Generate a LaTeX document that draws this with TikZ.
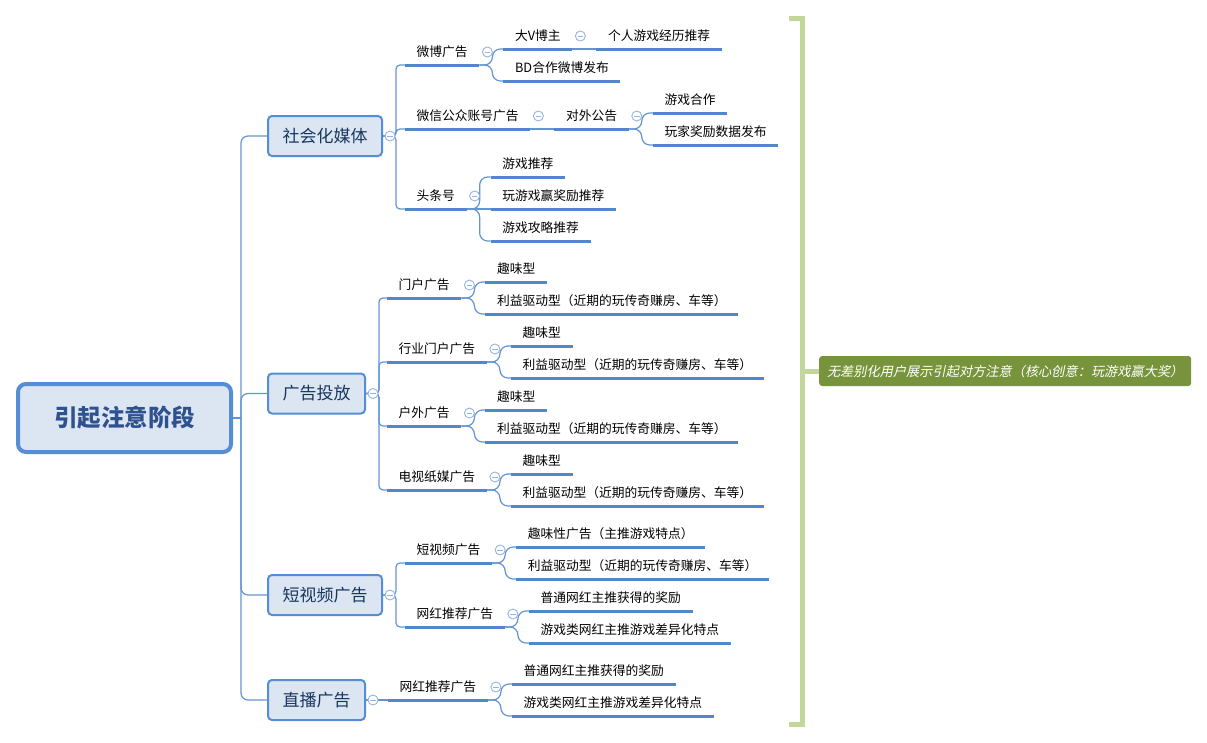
\documentclass[tikz,border=0pt]{standalone}
\usepackage{fontspec}
\setmainfont{Noto Sans CJK SC}
\newfontfamily\slantfont{Noto Sans CJK SC}[FakeSlant=0.2]
\usetikzlibrary{calc}
\definecolor{boxblue}{RGB}{85,142,213}
\definecolor{boxfill}{RGB}{220,230,242}
\definecolor{ulblue}{RGB}{83,135,205}
\definecolor{connblue}{RGB}{100,148,212}
\definecolor{collblue}{RGB}{150,180,225}
\definecolor{rootText}{RGB}{47,82,143}
\definecolor{lvText}{RGB}{23,54,93}
\definecolor{brgreen}{RGB}{196,215,155}
\definecolor{sumgreen}{RGB}{119,147,60}
\newcommand\mmfork[2]{\draw[conn, rounded corners=8pt] (#1.south east) -- ++(13,0) |- (#2.south west);}
\newcommand\mmlink[2]{\draw[conn] (#1.south east) -- (#2.south west);}
\begin{document}
\begin{tikzpicture}[x=1pt,y=-1pt,
  root/.style={draw=boxblue, line width=4pt, fill=boxfill, rounded corners=8pt, minimum width=213pt, minimum height=68pt, inner sep=0pt, text=rootText, font=\fontsize{23.5}{28}\selectfont\bfseries},
  lvone/.style={draw=boxblue, line width=2pt, fill=boxfill, rounded corners=4pt, minimum height=40pt, inner xsep=14.5pt, inner ysep=0pt, text=lvText, font=\fontsize{17}{20}\selectfont, anchor=west},
  lbl/.style={anchor=south west, inner xsep=11.5pt, inner ysep=0pt, text height=11pt, text depth=8.15pt, font=\fontsize{12.75}{15}\selectfont},
  ul/.style={draw=ulblue, line width=3pt},
  conn/.style={draw=connblue, line width=1.2pt},
  coll/.style={circle, draw=collblue, fill=white, line width=0.9pt, minimum size=10pt, inner sep=0pt, path picture={\draw[collblue, line width=0.9pt] ($(path picture bounding box.center)+(-2.8,0)$) -- ($(path picture bounding box.center)+(2.8,0)$);}},
  bracket/.style={draw=brgreen, line width=5pt},
  summ/.style={fill=sumgreen, rounded corners=3pt, minimum width=372pt, minimum height=30pt, inner sep=0pt, text=white, font=\fontsize{13.2}{16}\selectfont\slantfont, anchor=west}
]
\useasboundingbox (0,0) rectangle (1207,742);
\fill[white] (0,0) rectangle (1207,742);

% root and level 1
\node[root] (root) at (124.5,418) {引起注意阶段};
\node[lvone] (s1) at (267,136) {社会化媒体};
\node[lvone] (s2) at (267,393.5) {广告投放};
\node[lvone] (s3) at (267,595) {短视频广告};
\node[lvone] (s4) at (267,700) {直播广告};

% level 2
\node[lbl] (a1) at (405,65) {微博广告};
\node[lbl] (a2) at (405,129) {微信公众账号广告};
\node[lbl] (a3) at (405,209) {头条号};
\node[lbl] (b1) at (387,298) {门户广告};
\node[lbl] (b2) at (387,362) {行业门户广告};
\node[lbl] (b3) at (387,426) {户外广告};
\node[lbl] (b4) at (387,490) {电视纸媒广告};
\node[lbl] (c1) at (405,563) {短视频广告};
\node[lbl] (c2) at (405,627) {网红推荐广告};
\node[lbl] (d1) at (388,700) {网红推荐广告};

% level 3
\node[lbl] (a11) at ($(a1.south east)+(24,-16)$) {大V博主};
\node[lbl] (a12) at ($(a1.south east)+(24,16)$) {BD合作微博发布};
\node[lbl] (a111) at ($(a11.south east)+(24,0)$) {个人游戏经历推荐};
\node[lbl] (a21) at ($(a2.south east)+(24,0)$) {对外公告};
\node[lbl] (a211) at ($(a21.south east)+(24,-16)$) {游戏合作};
\node[lbl] (a212) at ($(a21.south east)+(24,16)$) {玩家奖励数据发布};
\node[lbl] (a31) at ($(a3.south east)+(24,-32)$) {游戏推荐};
\node[lbl] (a32) at ($(a3.south east)+(24,0)$) {玩游戏赢奖励推荐};
\node[lbl] (a33) at ($(a3.south east)+(24,32)$) {游戏攻略推荐};
\node[lbl] (b11) at ($(b1.south east)+(24,-16)$) {趣味型};
\node[lbl] (b12) at ($(b1.south east)+(24,16)$) {利益驱动型（近期的玩传奇赚房、车等）};
\node[lbl] (b21) at ($(b2.south east)+(24,-16)$) {趣味型};
\node[lbl] (b22) at ($(b2.south east)+(24,16)$) {利益驱动型（近期的玩传奇赚房、车等）};
\node[lbl] (b31) at ($(b3.south east)+(24,-16)$) {趣味型};
\node[lbl] (b32) at ($(b3.south east)+(24,16)$) {利益驱动型（近期的玩传奇赚房、车等）};
\node[lbl] (b41) at ($(b4.south east)+(24,-16)$) {趣味型};
\node[lbl] (b42) at ($(b4.south east)+(24,16)$) {利益驱动型（近期的玩传奇赚房、车等）};
\node[lbl] (c11) at ($(c1.south east)+(24,-16)$) {趣味性广告（主推游戏特点）};
\node[lbl] (c12) at ($(c1.south east)+(24,16)$) {利益驱动型（近期的玩传奇赚房、车等）};
\node[lbl] (c21) at ($(c2.south east)+(24,-16)$) {普通网红主推获得的奖励};
\node[lbl] (c22) at ($(c2.south east)+(24,16)$) {游戏类网红主推游戏差异化特点};
\node[lbl] (d11) at ($(d1.south east)+(24,-16)$) {普通网红主推获得的奖励};
\node[lbl] (d12) at ($(d1.south east)+(24,16)$) {游戏类网红主推游戏差异化特点};

% root connectors
\coordinate (rs) at (241,418);
\draw[conn] (root.east) -- (rs);
\foreach \n in {s1,s2,s3,s4} \draw[conn, rounded corners=7pt] (rs) |- (\n.west);

% level 1 -> level 2
\foreach \n in {a1,a2,a3} \draw[conn, rounded corners=4pt] (s1.east) -- ++(13,0) |- (\n.south west);
\foreach \n in {b1,b2,b3,b4} \draw[conn, rounded corners=4pt] (s2.east) -- ++(13,0) |- (\n.south west);
\foreach \n in {c1,c2} \draw[conn, rounded corners=4pt] (s3.east) -- ++(13,0) |- (\n.south west);
\draw[conn] (s4.east) -- (d1.south west);

% level 2 -> level 3
\mmfork{a1}{a11} \mmfork{a1}{a12} \mmlink{a11}{a111}
\mmlink{a2}{a21} \mmfork{a21}{a211} \mmfork{a21}{a212}
\mmfork{a3}{a31} \mmlink{a3}{a32} \mmfork{a3}{a33}
\mmfork{b1}{b11} \mmfork{b1}{b12}
\mmfork{b2}{b21} \mmfork{b2}{b22}
\mmfork{b3}{b31} \mmfork{b3}{b32}
\mmfork{b4}{b41} \mmfork{b4}{b42}
\mmfork{c1}{c11} \mmfork{c1}{c12}
\mmfork{c2}{c21} \mmfork{c2}{c22}
\mmfork{d1}{d11} \mmfork{d1}{d12}

% underlines
\foreach \n in {a1,a2,a3,b1,b2,b3,b4,c1,c2,d1,a11,a12,a111,a21,a211,a212,a31,a32,a33,b11,b12,b21,b22,b31,b32,b41,b42,c11,c12,c21,c22,d11,d12}
  \draw[ul] (\n.south west) -- (\n.south east);

% collapse markers
\foreach \n in {s1,s2,s3,s4} \node[coll] (col-\n) at ($(\n.east)+(7,0)$) {};
\foreach \n in {a1,a11,a2,a21,a3,b1,b2,b3,b4,c1,c2,d1} \node[coll] (col-\n) at ($(\n.south east)+(8,-13)$) {};

% summary bracket
\node[summ] (sum) at (819,371) {无差别化用户展示引起对方注意（核心创意：玩游戏赢大奖）};
\coordinate (bt) at (789,18);
\coordinate (bb) at (789,724);
\coordinate (bm) at (802,371);
\draw[bracket] (bt) -- (bt -| bm) -- (bb -| bm) -- (bb);
\draw[bracket] (bm) -- (sum.west);
\end{tikzpicture}
\end{document}
